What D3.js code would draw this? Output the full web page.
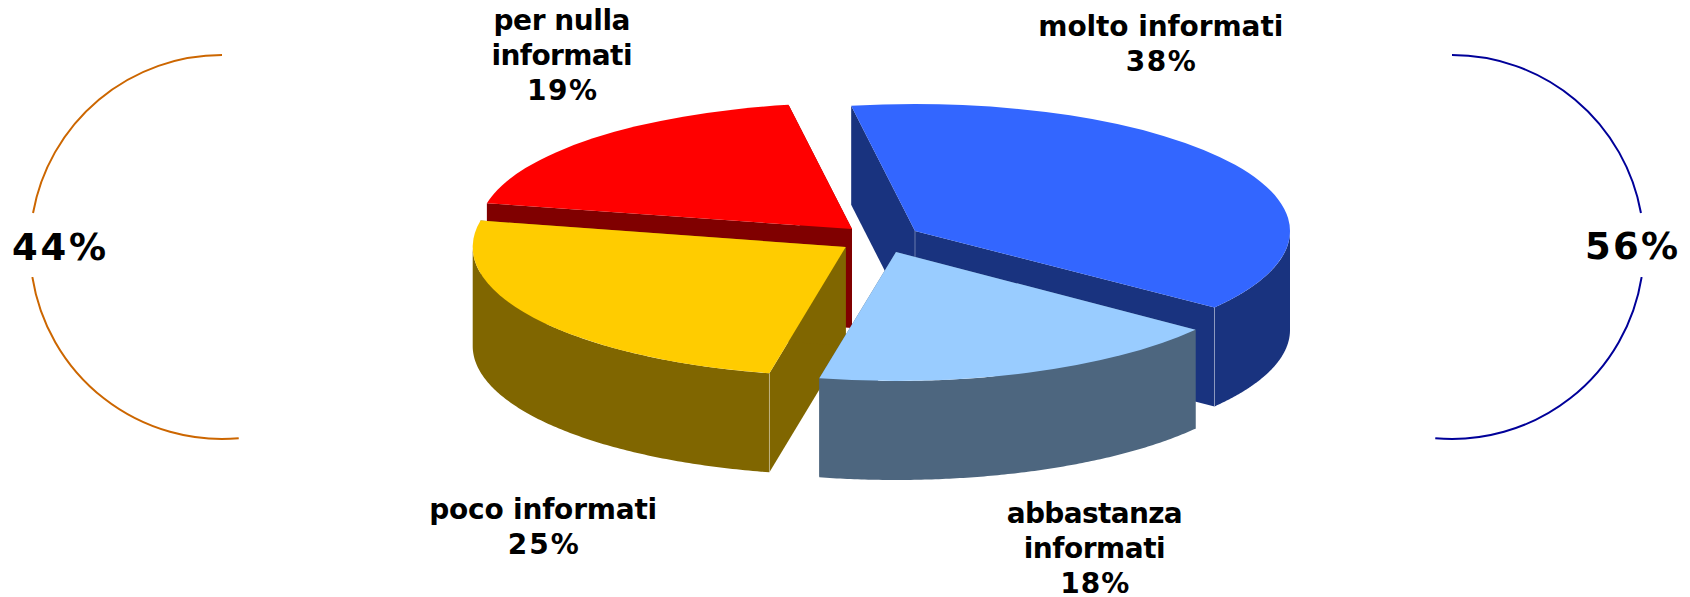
<!DOCTYPE html>
<html><head><meta charset="utf-8">
<script src="https://cdn.jsdelivr.net/npm/d3@7"></script>
<style>html,body{margin:0;padding:0;background:#fff}svg{display:block}text{font-family:"DejaVu Sans",sans-serif;font-weight:bold;fill:#000}</style>
</head><body><svg id="c" width="1690" height="597"></svg>
<script>
const categories = ["molto informati","abbastanza informati","poco informati","per nulla informati"];
const values = [38,18,25,19];
const topColors = ["#3366FF","#99CCFF","#FFCC00","#FF0000"];
const wallColors = ["#19337F","#4D667F","#806600","#800000"];
const labelLines = [["molto informati","38%"],["abbastanza","informati","18%"],["poco informati","25%"],["per nulla","informati","19%"]];
const sumLabels = ["44%","56%"];
const sumColors = ["#CC6600","#000099"];

// layout (not data)
const depth=99, startDeg=-9.8;
const centers=[[915,231],[896,252],[845.7,247],[852,229]];
const radiiX=[375,375,373,373], radiiY=[127,129,129,126];
const labelPos=[[1160.8,35.7,35],[1094.7,523,35],[543.2,518.5,35.5],[562,30,35]];
const labelWidths=[[245,70],[176,142,69],[228,71],[137,141,70]];
const svg=d3.select("#c");

const pie=d3.pie().sort(null).startAngle(startDeg*Math.PI/180).endAngle((startDeg+360)*Math.PI/180)(values);
const px=(i,a)=>centers[i][0]+radiiX[i]*Math.sin(a), py=(i,a)=>centers[i][1]-radiiY[i]*Math.cos(a);
const poly=d3.line();

[0,3,2,1].forEach(i=>{
  const s=pie[i], c=centers[i], g=svg.append("g");
  const wall=wallColors[i];
  [s.startAngle,s.endAngle].forEach(a=>{
    const P=[[c[0],c[1]],[px(i,a),py(i,a)],[px(i,a),py(i,a)+depth],[c[0],c[1]+depth]];
    g.append("path").attr("d",poly(P)+"Z").attr("fill",wall);
  });
  const a0=Math.max(s.startAngle,Math.PI/2), a1=Math.min(s.endAngle,1.5*Math.PI);
  if(a1>a0){
    const as=d3.range(0,121).map(k=>a0+(a1-a0)*k/120);
    const P=as.map(a=>[px(i,a),py(i,a)]).concat(as.slice().reverse().map(a=>[px(i,a),py(i,a)+depth]));
    g.append("path").attr("d",poly(P)+"Z").attr("fill",wall);
  }
  // seams on the viewer-facing vertical edges
  const seams = i===0 ? [[c[0],c[1]],[px(i,s.endAngle),py(i,s.endAngle)]] : i===2 ? [[px(i,s.startAngle),py(i,s.startAngle)]] : [];
  seams.forEach(([x,y])=>g.append("line").attr("x1",x).attr("x2",x).attr("y1",y).attr("y2",y+depth)
    .attr("stroke","#fff").attr("stroke-opacity",0.35));
  g.append("path").attr("transform",`translate(${c[0]},${c[1]}) scale(1,${radiiY[i]/radiiX[i]})`)
    .attr("d",d3.arc().innerRadius(0).outerRadius(radiiX[i])(s)).attr("fill",topColors[i]);
});

labelLines.forEach((lines,i)=>{
  const [x,y,dy]=labelPos[i];
  lines.forEach((t,j)=>svg.append("text").attr("x",x).attr("y",y+j*dy)
    .attr("text-anchor","middle").attr("font-size",28)
    .attr("textLength",labelWidths[i][j]).attr("lengthAdjust","spacing").text(t));
});

const bracket=d3.arc().innerRadius(192).outerRadius(192);
const rad=d=>d*Math.PI/180;
[[222,-1,0],[1452,1,1]].forEach(([cx,sign,k])=>{
  [[0,79.8],[99,185]].forEach(([a,b])=>{
    svg.append("path").attr("transform",`translate(${cx},247)`)
      .attr("d",bracket({startAngle:rad(sign*a),endAngle:rad(sign*b)}))
      .attr("fill","none").attr("stroke",sumColors[k]).attr("stroke-width",2);
  });
});
[[59,260,94],[1631.5,259,93]].forEach(([x,y,w],k)=>{
  svg.append("text").attr("x",x).attr("y",y).attr("text-anchor","middle").attr("font-size",37)
    .attr("textLength",w).attr("lengthAdjust","spacing").text(sumLabels[k]);
});
</script></body></html>
